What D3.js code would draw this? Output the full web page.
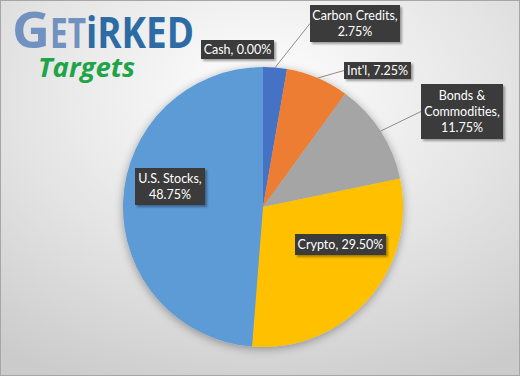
<!DOCTYPE html>
<html><head><meta charset="utf-8">
<script src="https://cdn.jsdelivr.net/npm/d3@7/dist/d3.min.js"></script>
<style>html,body{margin:0;padding:0;background:#fff;}svg{display:block;}</style>
</head><body>
<script>
const categories = ["Cash", "Carbon Credits", "Int'l", "Bonds & Commodities", "Crypto", "U.S. Stocks"];
const values = [0.00, 2.75, 7.25, 11.75, 29.50, 48.75];
const colors = ["#5b9bd5", "#4472c4", "#ed7d31", "#a5a5a5", "#ffc000", "#5b9bd5"];
const labelLines = [["Cash, 0.00%"], ["Carbon Credits,", "2.75%"], ["Int'l, 7.25%"], ["Bonds &", "Commodities,", "11.75%"], ["Crypto, 29.50%"], ["U.S. Stocks,", "48.75%"]];

const W = 520, H = 376, cx = 263, cy = 207, R = 140;
const svg = d3.select("body").append("svg").attr("width", W).attr("height", H);
const defs = svg.append("defs");
const bg = defs.append("radialGradient").attr("id", "bg").attr("cx", "0.5").attr("cy", "0.25").attr("r", "0.85");
bg.append("stop").attr("offset", "0").attr("stop-color", "#ffffff");
bg.append("stop").attr("offset", "0.55").attr("stop-color", "#e4e4e4");
bg.append("stop").attr("offset", "1").attr("stop-color", "#cbcbcb");
const sh = defs.append("filter").attr("id", "sh").attr("x", "-20%").attr("y", "-20%").attr("width", "140%").attr("height", "140%");
sh.append("feGaussianBlur").attr("in", "SourceAlpha").attr("stdDeviation", 5).attr("result", "b");
sh.append("feOffset").attr("in", "b").attr("dx", 0).attr("dy", 2).attr("result", "o");
sh.append("feComponentTransfer").attr("in", "o").attr("result", "o2").append("feFuncA").attr("type", "linear").attr("slope", 0.35);
const m = sh.append("feMerge"); m.append("feMergeNode").attr("in", "o2"); m.append("feMergeNode").attr("in", "SourceGraphic");
const bl = defs.append("filter").attr("id", "bl").attr("x", "-30%").attr("y", "-50%").attr("width", "160%").attr("height", "200%");
bl.append("feGaussianBlur").attr("stdDeviation", 1.2);

svg.append("rect").attr("x", 0.5).attr("y", 0.5).attr("width", W - 1).attr("height", H - 1)
  .attr("fill", "url(#bg)").attr("stroke", "#a6a6a6");

// Logo
const logo = svg.append("text").attr("x", 12).attr("y", 48)
  .attr("font-family", "'Open Sans', 'DejaVu Sans', sans-serif").attr("font-weight", "bold");
logo.append("tspan").attr("font-size", 50).attr("fill", "#7191c0").attr("textLength", 38).attr("lengthAdjust", "spacingAndGlyphs").text("G");
logo.append("tspan").attr("font-size", 42).attr("fill", "#7191c0").attr("textLength", 36).attr("lengthAdjust", "spacingAndGlyphs").text("ET");
logo.append("tspan").attr("font-size", 43).attr("fill", "#2d6ba5").attr("textLength", 108).attr("lengthAdjust", "spacingAndGlyphs").text("iRKED");
svg.append("text").attr("x", 38).attr("y", 77).attr("font-family", "'Open Sans', sans-serif")
  .attr("font-weight", "bold").attr("font-style", "italic").attr("font-size", 27).attr("fill", "#1fa447")
  .attr("textLength", 97).attr("lengthAdjust", "spacingAndGlyphs").text("Targets");

const pie = d3.pie().sort(null).value(d => d)(values);
const arc = d3.arc().innerRadius(0).outerRadius(R);
const g = svg.append("g").attr("transform", `translate(${cx},${cy})`);
g.append("g").attr("filter", "url(#sh)").selectAll("path").data(pie).join("path")
  .attr("d", arc).attr("fill", (d, i) => colors[i]);

// label box layout (offset from pie center): [boxX, boxY, boxW, boxH, leader]
const layout = [
  [-62, -167, 73, 19, false],
  [47, -202, 90, 37, true],
  [81, -145, 67, 17, true],
  [158, -123, 82, 55, true],
  [32, 27, 91, 21, false],
  [-128, -39, 70, 37, false]
];
const la = svg.append("g").attr("transform", `translate(${cx},${cy})`);
pie.forEach((d, i) => {
  const [bx, by, bw, bh, leader] = layout[i];
  if (leader) {
    const a = (d.startAngle + d.endAngle) / 2;
    const px = R * Math.sin(a), py = -R * Math.cos(a);
    la.append("path").attr("d", `M${px},${py}L${bx},${by + bh / 2}`)
      .attr("stroke", "#8c8c8c").attr("stroke-width", 1).attr("fill", "none");
  }
  la.append("rect").attr("x", bx + 2).attr("y", by + 2).attr("width", bw).attr("height", bh)
    .attr("fill", "#000").attr("opacity", 0.35).attr("filter", "url(#bl)");
  la.append("rect").attr("x", bx).attr("y", by).attr("width", bw).attr("height", bh).attr("fill", "#3b3b3b");
  const lines = labelLines[i];
  const lh = 16;
  const t0 = by + bh / 2 - (lines.length - 1) * lh / 2 + 4.5;
  lines.forEach((s, k) => {
    la.append("text").attr("x", bx + bw / 2).attr("y", t0 + k * lh).attr("text-anchor", "middle")
      .attr("font-family", "Lato, 'Open Sans', sans-serif").attr("font-size", 12.5).attr("fill", "#ffffff").text(s);
  });
});
</script>
</body></html>
